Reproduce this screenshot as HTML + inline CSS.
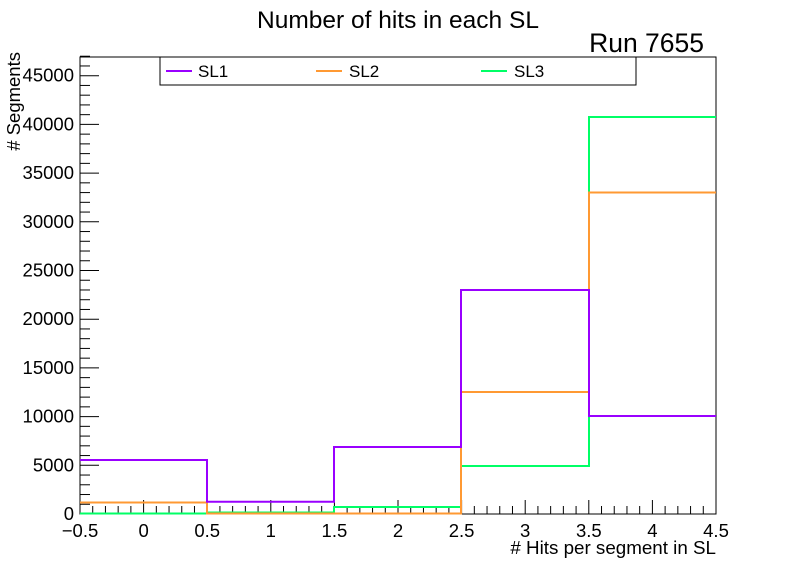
<!DOCTYPE html><html><head><style>body{margin:0;background:#fff}svg{display:block}text{font-family:"Liberation Sans",sans-serif}</style></head><body>
<svg width="796" height="572" viewBox="0 0 796 572" xmlns="http://www.w3.org/2000/svg">
<rect width="796" height="572" fill="#fff"/>
<text x="398" y="28" font-size="24.5" text-anchor="middle">Number of hits in each SL</text>
<text x="704" y="52" font-size="26.5" text-anchor="end">Run 7655</text>
<g id="ax" stroke="#000" stroke-width="1" fill="none">
<rect x="80" y="57" width="636" height="457"/>
</g>
<g stroke="#000" stroke-width="1" id="ticks"></g>
<g font-size="18.5" text-anchor="end" id="ylab"></g>
<g font-size="18.5" text-anchor="middle" id="xlab"></g>
<text x="716" y="554" font-size="18.8" text-anchor="end">#  Hits per segment in SL</text>
<text transform="translate(20,52) rotate(-90)" font-size="18.5" text-anchor="end"># Segments</text>
<g fill="none" stroke-width="2">
<path stroke="#00ff66" d="M80,513.5H207V512.5H334V507H461V466H589V117H716"/>
<path stroke="#ff9933" d="M80,502.5H207V513.5H334V513.5H461V392H589V192.5H716"/>
<path stroke="#9900ff" d="M80,460H207V501.7H334V447H461V290H589V416H716"/>
</g>
<rect x="160" y="57" width="476" height="28" fill="#fff" stroke="#000"/>
<line x1="166" y1="71" x2="192" y2="71" stroke="#9900ff" stroke-width="2"/>
<text x="198" y="77" font-size="17">SL1</text>
<line x1="316" y1="71" x2="342" y2="71" stroke="#ff9933" stroke-width="2"/>
<text x="349" y="77" font-size="17">SL2</text>
<line x1="481" y1="71" x2="507" y2="71" stroke="#00ff66" stroke-width="2"/>
<text x="514" y="77" font-size="17">SL3</text>
<script>
var ns="http://www.w3.org/2000/svg",t=document.getElementById("ticks"),yl=document.getElementById("ylab"),xl=document.getElementById("xlab");
function L(a,b,c,d){var e=document.createElementNS(ns,"line");e.setAttribute("x1",a);e.setAttribute("y1",b);e.setAttribute("x2",c);e.setAttribute("y2",d);t.appendChild(e);}
function T(g,x,y,s){var e=document.createElementNS(ns,"text");e.setAttribute("x",x);e.setAttribute("y",y);e.textContent=s;g.appendChild(e);}
var py=9.74/1000;
for(var v=0;v<=47000;v+=1000){var y=514-v*py;var maj=v%5000==0;L(80,y,80+(maj?19:10),y);if(maj)T(yl,74,y+6,v+"");}
for(var i=0;i<=50;i++){var x=80+i*12.72;var maj=i%5==0;L(x,514,x,514-(maj?14:8));if(maj){var val=(-0.5+i*0.1);var s=(Math.round(val*10)/10).toString().replace("-","\u2212");T(xl,x,537,s);}}
</script>
</svg></body></html>
